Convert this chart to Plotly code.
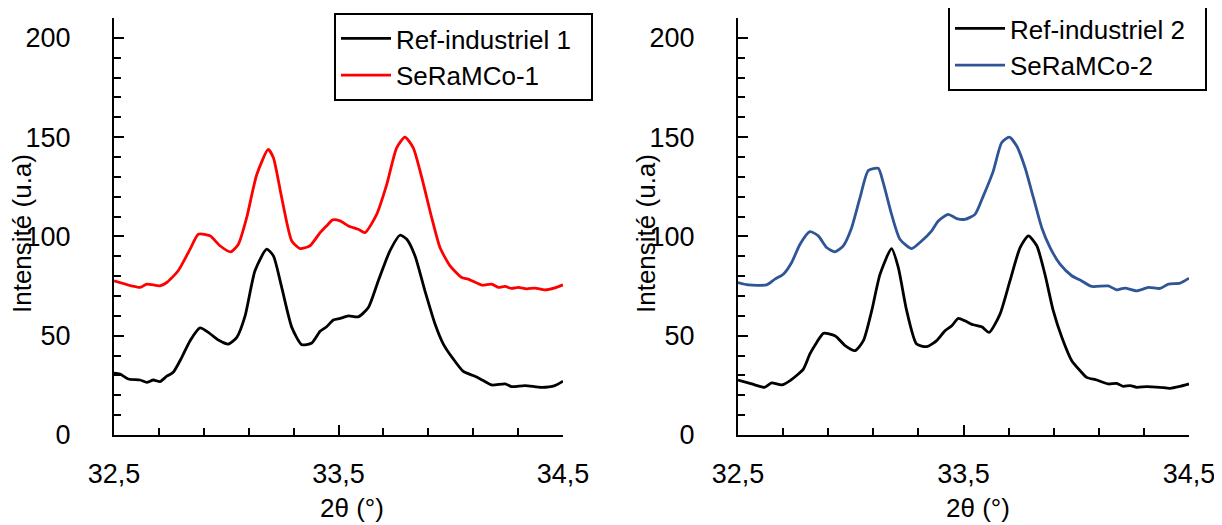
import plotly.graph_objects as go

# ---- data ----
x_ref1 = [32.5, 32.527, 32.564, 32.616, 32.646, 32.675, 32.705, 32.735, 32.764, 32.802, 32.839, 32.883,
          32.92, 32.965, 33.009, 33.047, 33.084, 33.128, 33.18, 33.21, 33.247, 33.292, 33.336, 33.381,
          33.418, 33.447, 33.477, 33.507, 33.544, 33.588, 33.633, 33.677, 33.729, 33.774, 33.804, 33.841,
          33.885, 33.93, 33.967, 34.011, 34.056, 34.108, 34.145, 34.182, 34.242, 34.271, 34.331, 34.405,
          34.464, 34.5]
y_ref1 = [31.1, 30.7, 28.2, 27.7, 26.5, 27.7, 26.9, 29.6, 31.6, 39.1, 47.5, 53.9,
          51.7, 47.8, 45.8, 49.2, 60.0, 82.7, 93.6, 90.2, 74.3, 54.2, 45.5, 46.3,
          52.2, 54.5, 57.9, 58.7, 60.0, 59.5, 64.2, 77.6, 92.7, 100.6, 98.6, 90.2,
          72.6, 55.9, 45.8, 38.3, 32.0, 29.6, 27.4, 25.2, 25.7, 24.4, 24.9, 24.0,
          24.9, 27.1]

x_ser1 = [32.5, 32.616, 32.646, 32.705, 32.735, 32.786, 32.839, 32.876, 32.928, 32.972, 33.02, 33.054,
          33.091, 33.136, 33.187, 33.21, 33.247, 33.292, 33.329, 33.373, 33.418, 33.447, 33.474, 33.507,
          33.544, 33.588, 33.618, 33.67, 33.715, 33.759, 33.796, 33.833, 33.871, 33.915, 33.952, 33.997,
          34.049, 34.078, 34.138, 34.182, 34.212, 34.242, 34.271, 34.301, 34.338, 34.375, 34.42, 34.464,
          34.5]
y_ser1 = [77.6, 74.3, 76.0, 75.1, 76.8, 82.7, 93.6, 101.1, 100.3, 95.3, 92.2, 96.1,
          109.5, 131.2, 143.8, 139.6, 119.5, 97.7, 93.9, 95.3, 101.9, 105.3, 108.3, 107.8,
          105.3, 103.6, 101.9, 111.1, 126.2, 144.6, 150.0, 144.6, 129.6, 109.5, 94.4, 85.2,
          79.3, 78.5, 75.5, 76.0, 74.3, 74.8, 73.8, 74.3, 73.6, 74.0, 73.1, 74.1,
          75.6]

x_ref2 = [32.5, 32.561, 32.617, 32.649, 32.694, 32.731, 32.79, 32.819, 32.849, 32.879, 32.93, 32.975,
          33.019, 33.056, 33.093, 33.13, 33.181, 33.211, 33.248, 33.292, 33.337, 33.381, 33.418, 33.448,
          33.477, 33.506, 33.543, 33.581, 33.614, 33.662, 33.706, 33.751, 33.788, 33.825, 33.861, 33.898,
          33.936, 33.98, 34.017, 34.046, 34.091, 34.142, 34.179, 34.209, 34.239, 34.268, 34.313, 34.372,
          34.416, 34.461, 34.5]
y_ref2 = [27.7, 25.7, 24.0, 26.2, 25.2, 27.4, 33.2, 40.8, 46.6, 51.2, 50.0, 45.0,
          42.5, 47.5, 62.6, 81.0, 93.9, 84.3, 62.6, 45.8, 44.5, 47.5, 52.5, 55.0,
          58.7, 57.5, 55.5, 54.5, 51.7, 60.9, 77.6, 94.4, 100.3, 95.3, 81.0, 62.6,
          49.2, 37.4, 32.4, 29.0, 27.7, 25.7, 26.0, 24.5, 24.9, 24.0, 24.4, 24.0,
          23.5, 24.5, 25.7]

x_ser2 = [32.5, 32.546, 32.627, 32.664, 32.701, 32.738, 32.775, 32.819, 32.856, 32.893, 32.93, 32.967,
          33.004, 33.041, 33.078, 33.122, 33.144, 33.181, 33.218, 33.27, 33.314, 33.359, 33.388, 33.432,
          33.47, 33.506, 33.551, 33.588, 33.632, 33.669, 33.703, 33.736, 33.773, 33.81, 33.847, 33.884,
          33.928, 33.98, 34.024, 34.069, 34.142, 34.179, 34.216, 34.268, 34.32, 34.372, 34.409, 34.461,
          34.5]
y_ser2 = [76.8, 75.6, 75.6, 78.5, 81.0, 86.9, 96.1, 102.4, 100.3, 94.4, 92.2, 95.3,
          104.4, 119.5, 133.2, 134.3, 127.1, 111.1, 98.6, 93.9, 97.7, 102.8, 107.8, 111.1,
          109.0, 108.6, 111.1, 120.4, 132.9, 147.2, 150.0, 145.5, 134.6, 119.5, 104.4, 94.4,
          86.0, 80.2, 77.6, 74.8, 75.1, 73.1, 74.0, 72.6, 74.3, 73.8, 76.0, 76.5,
          79.0]

names_left = ["Ref-industriel 1", "SeRaMCo-1"]
names_right = ["Ref-industriel 2", "SeRaMCo-2"]
x_ticks = [32.5, 33.5, 34.5]
y_ticks = [0, 50, 100, 150, 200]
x_title = "2θ (°)"
y_title = "Intensité (u.a)"

FONT = "Liberation Sans, Arial, sans-serif"
W, H = 1222, 525
OFF = 8  # page body margin
LW = 2.8
PAD = "\u00a0" * 2


def px(xp):
    return (xp - OFF) / W


def py(yp):
    return 1 - (yp - OFF) / H


fig = go.Figure()
fig.add_trace(go.Scatter(x=x_ref1, y=y_ref1, name=names_left[0] + PAD, mode="lines",
                         line=dict(color="black", width=LW, shape="spline", smoothing=0.6),
                         xaxis="x", yaxis="y", legend="legend"))
fig.add_trace(go.Scatter(x=x_ser1, y=y_ser1, name=names_left[1], mode="lines",
                         line=dict(color="#FF0000", width=LW, shape="spline", smoothing=0.6),
                         xaxis="x", yaxis="y", legend="legend"))
fig.add_trace(go.Scatter(x=x_ref2, y=y_ref2, name=names_right[0] + PAD, mode="lines",
                         line=dict(color="black", width=LW, shape="spline", smoothing=0.6),
                         xaxis="x2", yaxis="y2", legend="legend2"))
fig.add_trace(go.Scatter(x=x_ser2, y=y_ser2, name=names_right[1], mode="lines",
                         line=dict(color="#2F5597", width=LW, shape="spline", smoothing=0.6),
                         xaxis="x2", yaxis="y2", legend="legend2"))


def xax(x0, x1, anchor):
    return dict(domain=[px(x0), px(x1)], anchor=anchor, range=[32.5, 34.5], tickvals=x_ticks,
                ticks="inside", ticklen=10, tickwidth=2, tickcolor="black",
                minor=dict(ticks="inside", ticklen=7, tickwidth=2, tickcolor="black",
                           dtick=0.2, tick0=32.5),
                showline=True, linecolor="black", linewidth=2, showgrid=False, zeroline=False,
                automargin=False,
                tickfont=dict(family=FONT, size=27, color="black"), ticklabelstandoff=14)


def yax(anchor):
    return dict(domain=[py(435), py(18)], anchor=anchor, range=[0, 210], tickvals=y_ticks,
                ticks="inside", ticklen=10, tickwidth=2, tickcolor="black",
                minor=dict(ticks="inside", ticklen=7, tickwidth=2, tickcolor="black",
                           dtick=10, tick0=0),
                showline=True, linecolor="black", linewidth=2, showgrid=False, zeroline=False,
                automargin=False,
                tickfont=dict(family=FONT, size=27, color="black"), ticklabelstandoff=36)


legend_common = dict(bordercolor="black", borderwidth=2, bgcolor="white",
                     font=dict(family=FONT, size=26, color="black"),
                     xanchor="left", yanchor="top", tracegroupgap=0, itemwidth=50)

fig.update_layout(
    width=W, height=H, margin=dict(l=0, r=0, t=0, b=0, autoexpand=False),
    paper_bgcolor="white", plot_bgcolor="white", separators=", ",
    xaxis=xax(114, 563, "y"),
    yaxis=yax("x"),
    xaxis2=xax(738, 1189, "y2"),
    yaxis2=yax("x2"),
    legend=dict(x=px(334), y=py(13), **legend_common),
    legend2=dict(x=px(948), y=py(3), **legend_common),
    showlegend=True,
)

ann_font = dict(family=FONT, size=26, color="black")
for xc in (22, 646):
    fig.add_annotation(text=y_title, x=px(xc), y=py(234), xref="paper", yref="paper",
                       textangle=-90, showarrow=False, font=ann_font,
                       xanchor="center", yanchor="middle")
for xc in (352, 978):
    fig.add_annotation(text=x_title, x=px(xc), y=py(508), xref="paper", yref="paper",
                       showarrow=False, font=ann_font, xanchor="center", yanchor="middle")

fig.write_html("out.html")
